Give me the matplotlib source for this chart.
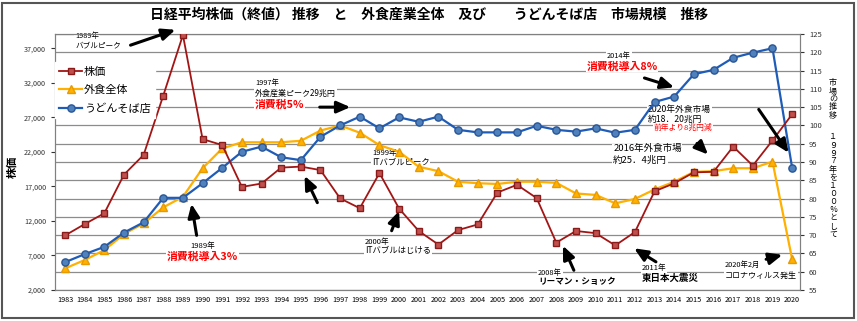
import matplotlib
matplotlib.use("Agg")
import matplotlib.pyplot as plt
from matplotlib.ticker import FuncFormatter
from matplotlib.patches import Rectangle

plt.rcParams['font.family'] = ['Noto Sans CJK JP', 'DejaVu Sans']

# 年
years = list(range(1983, 2021))
# 日経平均株価（終値）
kabuka = [9894, 11543, 13113, 18701, 21564, 30159, 38916, 23849, 22984, 16925,
          17417, 19723, 19868, 19361, 15259, 13842, 18934, 13786, 10543, 8579,
          10677, 11489, 16111, 17226, 15308, 8860, 10546, 10229, 8455, 10395,
          16291, 17451, 19034, 19114, 22765, 20015, 23657, 27444]
# 外食全体 (1997年=100)
gaishoku = [60.9, 63.2, 65.9, 70.3, 73.2, 77.6, 80.5, 88.3, 93.7, 95.4,
            95.4, 95.4, 95.8, 98.6, 100.0, 98.0, 94.6, 92.8, 88.7, 87.5,
            84.6, 84.2, 84.0, 84.6, 84.6, 84.3, 81.4, 81.0, 78.7, 79.9,
            82.5, 84.6, 87.3, 87.5, 88.3, 88.3, 90.1, 63.4]
# うどんそば店 (1997年=100)
udon = [62.6, 64.8, 66.8, 70.7, 73.5, 80.2, 80.2, 84.2, 88.4, 92.8,
        94.2, 91.3, 90.5, 96.9, 100.0, 102.4, 99.2, 102.2, 101.0, 102.4,
        98.8, 98.1, 98.1, 98.1, 99.9, 98.8, 98.3, 99.2, 98.0, 98.8,
        106.4, 107.9, 114.0, 115.2, 118.5, 119.9, 121.1, 88.4]

left_ticks = list(range(2000, 37001, 5000))
right_ticks = list(range(55, 126, 5))

fig = plt.figure(figsize=(8.57, 3.21), dpi=100)
ax = fig.add_axes([55/857, 31/321, 745/857, 256/321])
ax2 = ax.twinx()
ax.set_zorder(ax2.get_zorder() + 1)
ax.patch.set_visible(False)

# 線
ax2.plot(years, gaishoku, color='#FFB000', lw=1.6, marker='^', ms=5.5,
         mfc='#FFB000', mec='#E89B00', label='外食全体', zorder=2)
ax2.plot(years, udon, color='#1F5CB8', lw=1.6, marker='o', ms=5.2,
         mfc='#4F81BD', mec='#2A5597', label='うどんそば店', zorder=3)
ax.plot(years, kabuka, color='#A31515', lw=1.3, marker='s', ms=4.6,
        mfc='#C0504D', mec='#8B1A1A', label='株価', zorder=3)

# 軸
ax.set_xlim(1982.49, 2020.4)
ax.set_ylim(2000, 39069)
ax2.set_ylim(55, 125)
ax.set_xticks(years)
ax.set_yticks(left_ticks)
ax2.set_yticks(right_ticks)
ax.yaxis.set_major_formatter(FuncFormatter(lambda v, p: '{:,}'.format(int(v))))
ax.tick_params(axis='x', length=0, labelsize=5.2, pad=4)
ax.tick_params(axis='y', length=3, labelsize=5.2, colors='#333333')
ax2.tick_params(axis='y', length=3, labelsize=5.5, colors='#333333')
ax2.yaxis.grid(True, color='#8c8c8c', lw=0.9)
ax2.set_axisbelow(True)
for a in (ax, ax2):
    for s in a.spines.values():
        s.set_color('#808080')

# 凡例
h1, l1 = ax.get_legend_handles_labels()
h2, l2 = ax2.get_legend_handles_labels()
leg = ax.legend(h1 + h2, l1 + l2, loc='upper left', bbox_to_anchor=(0.0, 0.89),
                frameon=True, fancybox=False, edgecolor='white', facecolor='white',
                framealpha=1, fontsize=8, handlelength=2.0, labelspacing=0.75,
                borderaxespad=0, handletextpad=0.2)

# 注釈
box = dict(facecolor='white', edgecolor='none', pad=0.5)
red = '#FF0000'

def note(x, y, s, fs=5.5, color='black', weight='normal', ha='left'):
    ax2.text(x, y, s, fontsize=fs, color=color, weight=weight, ha=ha, va='center',
             bbox=box, zorder=1.5)

def arrow(tail, head):
    ax.annotate('', xy=head, xycoords=ax2.transData, xytext=tail, textcoords=ax2.transData,
                arrowprops=dict(arrowstyle='-|>,head_width=0.35,head_length=0.8',
                                color='black', lw=2.2),
                annotation_clip=False, zorder=6)

note(1983.51, 124.5, '1989年', fs=5.3)
note(1983.51, 121.9, 'バブルピーク', fs=5.5)
arrow((1986.2, 121.7), (1988.75, 126.4))

note(1992.67, 111.6, '1997年', fs=5.3)
note(1992.67, 108.7, '外食産業ピーク29兆円', fs=5.8)
note(1992.67, 105.8, '消費税5%', fs=7.8, color=red, weight='bold')
arrow((1995.82, 105.0), (1997.66, 105.0))

note(1998.62, 92.5, '1999年', fs=5.5)
note(1998.62, 90.0, 'ITバブルピーク', fs=6)

note(1990.0, 66.9, '1989年', fs=5.5, ha='center')
note(1990.0, 64.0, '消費税導入3%', fs=7.8, color=red, weight='bold', ha='center')
arrow((1989.72, 69.2), (1989.41, 79.3))

arrow((1995.9, 78.2), (1995.13, 86.9))

note(1998.27, 68.0, '2000年', fs=5.5)
note(1998.27, 65.8, 'ITバブルはじける', fs=6)
arrow((1999.57, 70.5), (2000.05, 77.3))

note(2007.07, 59.7, '2008年', fs=5.3)
note(2007.07, 57.2, 'リーマン・ショック', fs=6.2, weight='bold')
arrow((2008.95, 59.7), (2008.28, 67.8))

note(2012.36, 61.0, '2011年', fs=5.5)
note(2012.36, 58.2, '東日本大震災', fs=6.8, weight='bold')
arrow((2013.19, 62.3), (2011.84, 66.8))

note(2016.59, 61.8, '2020年2月', fs=5.3)
note(2016.59, 58.9, 'コロナウィルス発生', fs=5.8)
arrow((2018.54, 63.2), (2019.64, 64.8))

note(2011.19, 119.0, '2014年', fs=5.3, ha='center')
note(2011.35, 116.1, '消費税導入8%', fs=7.8, color=red, weight='bold', ha='center')
arrow((2012.35, 113.2), (2014.13, 110.2))

note(2012.67, 104.4, '2020年外食市場', fs=6.3)
note(2012.67, 101.8, '約18．20兆円', fs=6.3)
note(2012.97, 99.3, '前年より8兆円減', fs=5.6, color=red)
arrow((2018.22, 105.0), (2019.9, 91.9))

note(2010.89, 93.6, '2016年外食市場', fs=6.8)
note(2010.89, 90.6, '約25．4兆円', fs=6.8)
arrow((2015.06, 95.6), (2015.82, 91.5))

# タイトルと軸ラベル
fig.text(429/857, 1 - 15/321,
         '日経平均株価（終値） 推移　と　外食産業全体　及び　　うどんそば店　市場規模　推移',
         fontsize=10, weight='bold', ha='center', va='center')
fig.text(12/857, 1 - 167/321, '株価', rotation=90, fontsize=8, weight='bold',
         ha='center', va='center')

for i, ch in enumerate('市場の推移'):
    fig.text(833/857, 1 - (83 + 8 * i)/321, ch, fontsize=5.8, ha='center', va='center')
for i, ch in enumerate('１９９７年を１００％として'):
    fig.text(833/857, 1 - (137 + 8.1 * i)/321, ch, fontsize=5.8, ha='center', va='center')

fig.patches.append(Rectangle((2/857, 3/321), 852/857, 315/321, transform=fig.transFigure,
                             fill=False, edgecolor='#555555', lw=1.5))

fig.savefig('out.png', dpi=100)
